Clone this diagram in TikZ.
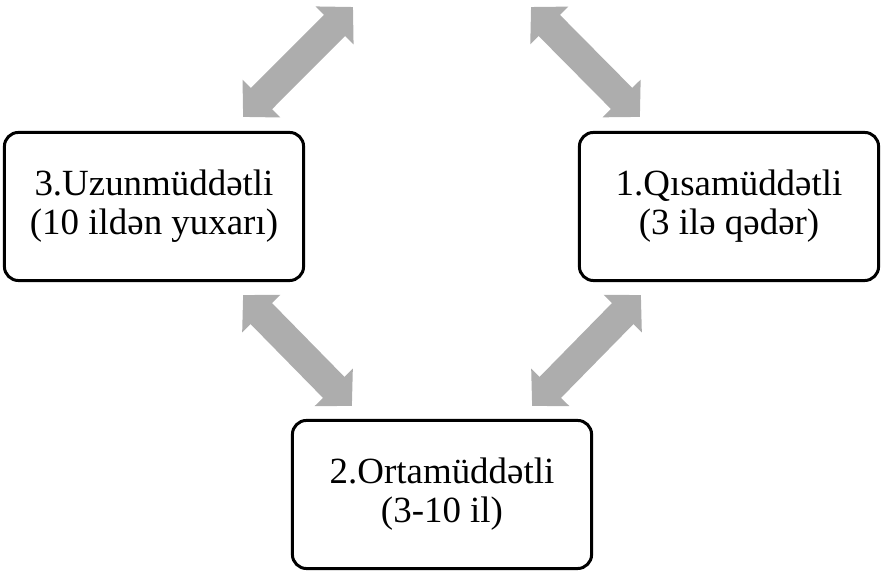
\documentclass[tikz,border=0pt]{standalone}
\usepackage{fontspec}
\setmainfont{Liberation Serif}
\usetikzlibrary{arrows.meta, calc}
\definecolor{arrowgray}{HTML}{ADADAD}
\tikzset{
	termbox/.style={draw, line width=0.85pt, rounded corners=1.4mm, minimum width=2.99cm,
	  minimum height=1.48cm, align=center, font=\fontsize{10.5}{11.1}\selectfont}
}
\tikzset{
	twoway/.style={arrowgray, line width=0.30cm,
	  {Triangle[width=0.52cm,length=0.26cm]}-{Triangle[width=0.52cm,length=0.26cm]}}
}

\begin{document}
\begin{tikzpicture}[x=0.01cm, y=-0.01cm]
      \useasboundingbox (0,0) rectangle (882,571);
      % boxes
      \node[termbox] (longterm)  at (154,206.5) {3.Uzunmüddətli\\(10 ildən yuxarı)};
      \node[termbox] (shortterm) at (729,206.5) {1.Qısamüddətli\\(3 ilə qədər)};
      \node[termbox] (midterm)   at (442,494.5) {2.Ortamüddətli\\(3-10 il)};
      % free ends at the top edge
      \coordinate (topleft)  at (353,7);
      \coordinate (topright) at (531,7);
      % arrows
      \draw[twoway] ($(longterm.north east)+(-62,-14)$) -- (topleft);
      \draw[twoway] ($(shortterm.north west)+(62,-14)$) -- (topright);
      \draw[twoway] ($(longterm.south east)+(-62,13)$) -- ($(midterm.north west)+(61,-13)$);
      \draw[twoway] ($(shortterm.south west)+(63,13)$) -- ($(midterm.north east)+(-61,-13)$);
    \end{tikzpicture}
\end{document}
